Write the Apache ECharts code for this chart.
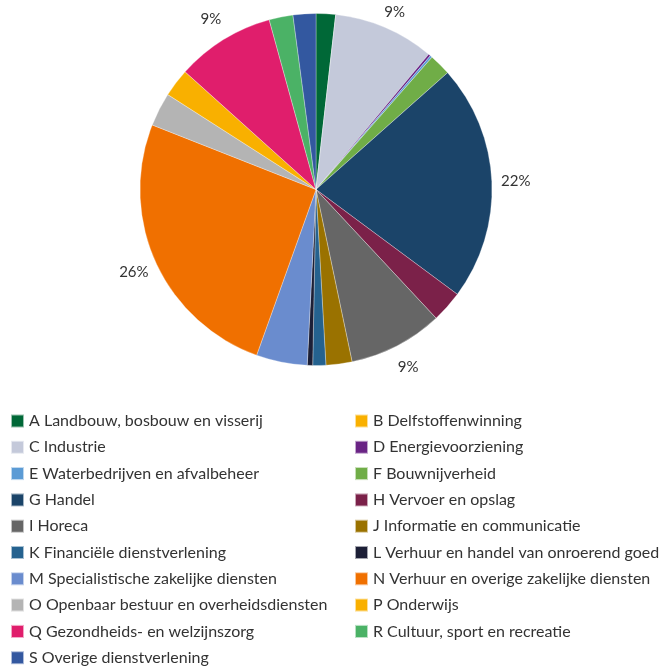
<!DOCTYPE html>
<html>
<head>
<meta charset="utf-8">
<script src="https://cdn.jsdelivr.net/npm/echarts@6/dist/echarts.min.js"></script>
<style>
  html, body { margin: 0; padding: 0; background: #fff; }
  #chart { width: 661px; height: 667px; }
</style>
</head>
<body>
<div id="chart"></div>
<script>
// sectoren en aandeel (%)
const sectors = [
    'A Landbouw, bosbouw en visserij',
    'B Delfstoffenwinning',
    'C Industrie',
    'D Energievoorziening',
    'E Waterbedrijven en afvalbeheer',
    'F Bouwnijverheid',
    'G Handel',
    'H Vervoer en opslag',
    'I Horeca',
    'J Informatie en communicatie',
    'K Financiële dienstverlening',
    'L Verhuur en handel van onroerend goed',
    'M Specialistische zakelijke diensten',
    'N Verhuur en overige zakelijke diensten',
    'O Openbaar bestuur en overheidsdiensten',
    'P Onderwijs',
    'Q Gezondheids- en welzijnszorg',
    'R Cultuur, sport en recreatie',
    'S Overige dienstverlening'
];
const shares = [1.8, 0, 9.3, 0.2, 0.2, 2.0, 21.8, 2.9, 8.7, 2.4, 1.2, 0.5, 4.7, 25.6, 3.1, 2.6, 9.1, 2.2, 2.1];
const colors = [
    '#006837', '#F9B000', '#C4C9DA', '#6A2485', '#5B9BD5', '#70AD47', '#1B4469',
    '#7B2149', '#666666', '#9A7200', '#25628F', '#1C1F36', '#6A8CCE', '#F07000',
    '#B4B4B4', '#F9B000', '#E01E6C', '#4BB266', '#3358A0'
];

const cx = 316, cy = 189.5, radius = 176;
const labelRadius = 200;
const total = shares.reduce((a, b) => a + b, 0);

const chart = echarts.init(document.getElementById('chart'));

const legendBase = {
    orient: 'vertical',
    top: 413,
    height: 260,
    padding: 0,
    icon: 'rect',
    itemWidth: 13,
    itemHeight: 13,
    itemGap: 10.3,
    selectedMode: false,
    textStyle: { fontFamily: 'Lato', fontSize: 16, lineHeight: 16, color: '#333' }
};

// label centred on the slice's mid angle, just outside the pie (kept inside the canvas)
const placeLabel = (params) => {
    let before = 0;
    for (let i = 0; i < params.dataIndex; i++) before += shares[i];
    const mid = (before + shares[params.dataIndex] / 2) / total * Math.PI * 2;
    const y = cy - labelRadius * Math.cos(mid);
    return {
        x: cx + labelRadius * Math.sin(mid),
        y: Math.max(y, params.labelRect.height / 2 + 5),
        align: 'center',
        verticalAlign: 'middle'
    };
};

const option = {
    animation: false,
    color: colors,
    legend: [
        Object.assign({}, legendBase, { left: 10, data: sectors.filter((s, i) => i % 2 === 0) }),
        Object.assign({}, legendBase, { left: 354, data: sectors.filter((s, i) => i % 2 === 1) })
    ],
    series: [{
        type: 'pie',
        center: [cx, cy],
        radius: radius,
        startAngle: 90,
        clockwise: true,
        avoidLabelOverlap: false,
        itemStyle: { borderColor: 'rgba(255,255,255,0.6)', borderWidth: 0.5 },
        label: {
            show: true,
            position: 'outside',
            fontFamily: 'Lato',
            fontSize: 15,
            color: '#333',
            formatter: p => p.percent >= 8 ? Math.round(p.percent) + '%' : ''
        },
        labelLine: { show: false },
        labelLayout: placeLabel,
        emphasis: { disabled: true },
        data: sectors.map((s, i) => ({ name: s, value: shares[i] }))
    }]
};

chart.setOption(option);
</script>
</body>
</html>
